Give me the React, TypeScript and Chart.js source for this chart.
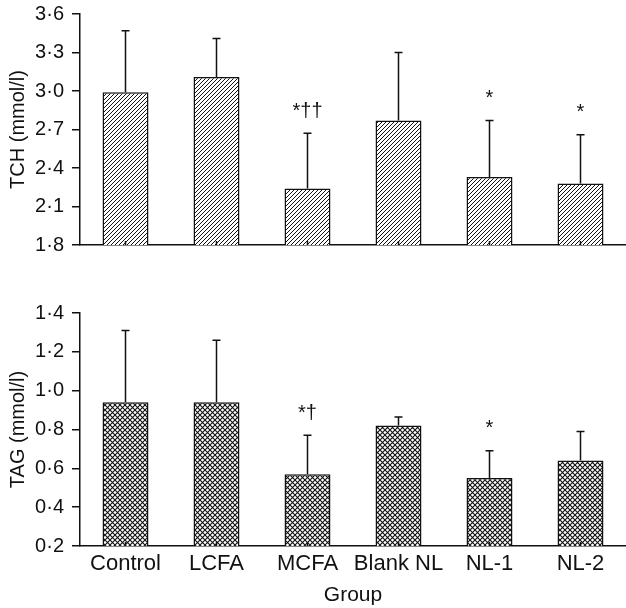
import React, { useEffect, useRef } from "react";
import { Chart, registerables } from "chart.js";

Chart.register(...registerables);

const categories = ["Control", "LCFA", "MCFA", "Blank NL", "NL-1", "NL-2"];
const tchMean = [2.99, 3.11, 2.24, 2.77, 2.33, 2.28];
const tchSD = [0.48, 0.3, 0.43, 0.53, 0.44, 0.38];
const tchMarks = ["", "", "*††", "", "*", "*"];
const tchTicks = [1.8, 2.1, 2.4, 2.7, 3.0, 3.3, 3.6];

const tagMean = [0.94, 0.94, 0.57, 0.82, 0.55, 0.64];
const tagSD = [0.37, 0.32, 0.2, 0.045, 0.14, 0.15];
const tagMarks = ["", "", "*†", "", "*", ""];
const tagTicks = [0.2, 0.4, 0.6, 0.8, 1.0, 1.2, 1.4];

const FONT = "'Liberation Sans', Arial, Helvetica, sans-serif";
const INK = "#111";

function makeHatch(): CanvasPattern | string {
  const c = document.createElement("canvas");
  const p = 4;
  c.width = p;
  c.height = p;
  const g = c.getContext("2d");
  if (!g) return "#888";
  g.fillStyle = "#fff";
  g.fillRect(0, 0, p, p);
  g.strokeStyle = "#111";
  g.lineWidth = 1;
  g.beginPath();
  g.moveTo(-1, p + 1);
  g.lineTo(p + 1, -1);
  g.moveTo(-1, 1);
  g.lineTo(1, -1);
  g.moveTo(p - 1, p + 1);
  g.lineTo(p + 1, p - 1);
  g.stroke();
  return g.createPattern(c, "repeat") || "#888";
}

function makeCross(): CanvasPattern | string {
  const c = document.createElement("canvas");
  const p = 5;
  c.width = p;
  c.height = p;
  const g = c.getContext("2d");
  if (!g) return "#888";
  g.fillStyle = "#fff";
  g.fillRect(0, 0, p, p);
  g.strokeStyle = "#111";
  g.lineWidth = 1.1;
  g.beginPath();
  g.moveTo(-1, -1);
  g.lineTo(p + 1, p + 1);
  g.moveTo(-1, p + 1);
  g.lineTo(p + 1, -1);
  g.stroke();
  return g.createPattern(c, "repeat") || "#888";
}

const errorPlugin = {
  id: "errbars",
  afterDatasetsDraw(chart: any, _args: any, opts: any) {
    const sd: number[] = opts.sd || [];
    const marks: string[] = opts.marks || [];
    const meta = chart.getDatasetMeta(0);
    const ys = chart.scales.y;
    const ctx = chart.ctx;
    const axisY = chart.chartArea.bottom;
    ctx.save();
    ctx.strokeStyle = INK;
    ctx.lineWidth = 1.5;
    meta.data.forEach((bar: any, i: number) => {
      const v = chart.data.datasets[0].data[i];
      const top = ys.getPixelForValue(v + sd[i]);
      ctx.beginPath();
      ctx.moveTo(bar.x, bar.y);
      ctx.lineTo(bar.x, top);
      ctx.moveTo(bar.x - 4, top);
      ctx.lineTo(bar.x + 4, top);
      ctx.moveTo(bar.x, axisY);
      ctx.lineTo(bar.x, axisY - 4);
      ctx.stroke();
      if (marks[i]) {
        ctx.fillStyle = INK;
        ctx.font = `20px ${FONT}`;
        ctx.textAlign = "center";
        ctx.textBaseline = "middle";
        ctx.fillText(marks[i], bar.x, top - 22);
      }
    });
    ctx.restore();
  },
};

function fmt(v: any) {
  return Number(v).toFixed(1).replace(".", "·");
}

function buildConfig(
  means: number[],
  sds: number[],
  marks: string[],
  ticks: number[],
  fill: any,
  yTitle: string,
  bottom: boolean
): any {
  return {
    type: "bar",
    data: {
      labels: categories,
      datasets: [
        {
          data: means,
          backgroundColor: fill,
          borderColor: INK,
          borderWidth: 1.5,
          borderSkipped: false,
          categoryPercentage: 1,
          barPercentage: 0.505,
        },
      ],
    },
    options: {
      responsive: false,
      animation: false,
      devicePixelRatio: 1,
      layout: { padding: { top: bottom ? 53 : 14, right: 0, left: 0, bottom: 0 } },
      plugins: {
        legend: { display: false },
        tooltip: { enabled: false },
        errbars: { sd: sds, marks },
      },
      scales: {
        x: {
          grid: { display: false, drawTicks: false },
          border: { display: true, color: INK, width: 1.5 },
          ticks: {
            display: bottom,
            color: INK,
            font: { size: 22, family: FONT },
            padding: 5,
            maxRotation: 0,
            autoSkip: false,
          },
          title: {
            display: bottom,
            text: "Group",
            color: INK,
            font: { size: 21, family: FONT },
            padding: { top: 0, bottom: 0 },
          },
          afterFit: (s: any) => {
            s.height = bottom ? 62 : 15;
            s.paddingLeft = 0;
            s.paddingRight = 0;
          },
        },
        y: {
          min: ticks[0],
          max: ticks[ticks.length - 1],
          afterBuildTicks: (s: any) => {
            s.ticks = ticks.map((v) => ({ value: v }));
          },
          ticks: {
            color: INK,
            font: { size: 20, family: FONT },
            padding: 8,
            callback: (v: any) => fmt(v),
          },
          grid: {
            display: true,
            drawOnChartArea: false,
            drawTicks: true,
            tickLength: 8,
            color: INK,
            lineWidth: 1.5,
          },
          border: { display: true, color: INK, width: 1.5 },
          title: {
            display: true,
            text: yTitle,
            color: INK,
            font: { size: 20, family: FONT },
            padding: { top: 6, bottom: 0 },
          },
          afterFit: (s: any) => {
            s.width = 80;
            s.paddingTop = 0;
            s.paddingBottom = 0;
          },
        },
      },
    },
    plugins: [errorPlugin],
  };
}

export default function App() {
  const topRef = useRef<HTMLCanvasElement>(null);
  const botRef = useRef<HTMLCanvasElement>(null);

  useEffect(() => {
    if (!topRef.current || !botRef.current) return;
    const c1 = new Chart(
      topRef.current,
      buildConfig(tchMean, tchSD, tchMarks, tchTicks, makeHatch(), "TCH (mmol/l)", false)
    );
    const c2 = new Chart(
      botRef.current,
      buildConfig(tagMean, tagSD, tagMarks, tagTicks, makeCross(), "TAG (mmol/l)", true)
    );
    return () => {
      c1.destroy();
      c2.destroy();
    };
  }, []);

  return (
    <div
      style={{
        position: "fixed",
        left: 0,
        top: 0,
        width: 626,
        height: 608,
        background: "#fff",
      }}
    >
      <canvas
        ref={topRef}
        width={626}
        height={260}
        style={{ position: "absolute", left: 0, top: 0, width: 626, height: 260 }}
      />
      <canvas
        ref={botRef}
        width={626}
        height={348}
        style={{ position: "absolute", left: 0, top: 260, width: 626, height: 348 }}
      />
    </div>
  );
}
